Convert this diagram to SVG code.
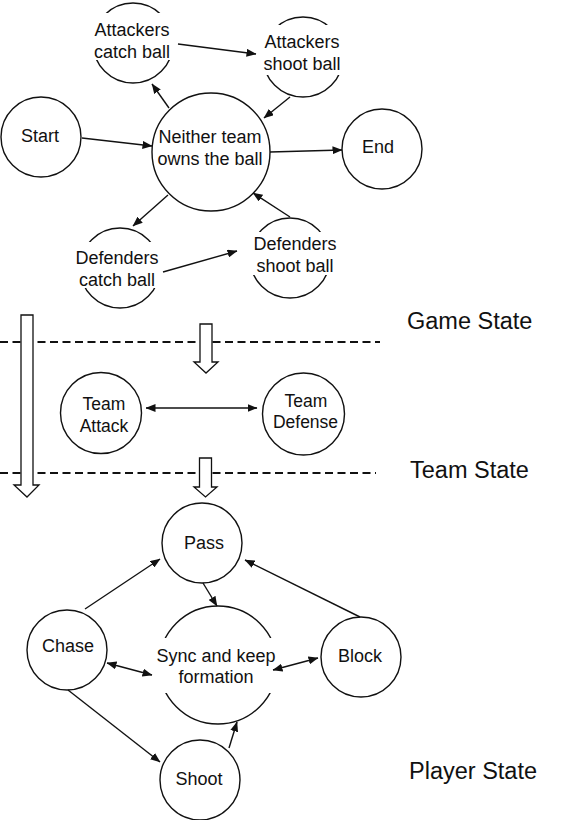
<svg xmlns="http://www.w3.org/2000/svg" width="562" height="820" viewBox="0 0 562 820">
<style>
.n{fill:#fff;stroke:#111;stroke-width:1.4}
.bg{fill:#fff;stroke:none}
.t{font-family:"Liberation Sans",Arial,sans-serif;font-size:18px;fill:#111;text-anchor:middle}
.tt{font-size:17.5px}
.lab{font-family:"Liberation Sans",Arial,sans-serif;font-size:23.5px;fill:#111}
.c{stroke:#111;stroke-width:1.4;fill:none;marker-end:url(#ah)}
.d{marker-start:url(#ah)}
.dash{stroke:#111;stroke-width:2;stroke-dasharray:8 4.5;fill:none}
.blk{fill:#fff;stroke:#111;stroke-width:1.3;stroke-linejoin:miter}
</style>
<defs>
<marker id="ah" markerUnits="userSpaceOnUse" markerWidth="10" markerHeight="8" refX="9.5" refY="4" orient="auto-start-reverse">
<path d="M0,0 L10,4 L0,8 z" fill="#111"/>
</marker>
</defs>
<rect width="562" height="820" fill="#fff"/>

<g id="layers">
<line class="dash" x1="0" y1="342" x2="380" y2="342"/>
<line class="dash" x1="0" y1="473" x2="376" y2="473"/>
<path class="blk" d="M21,315 H33 V485 H39 L27,497 L14,485 H21 Z"/>
<path class="blk" d="M200,324 H212 V362 H218 L206,373 L194,362 H200 Z"/>
<path class="blk" d="M199.5,458 H211.5 V487 H217 L205.5,497 L194,487 H199.5 Z"/>
<text class="lab" x="407" y="329">Game State</text>
<text class="lab" x="410" y="478">Team State</text>
<text class="lab" x="409" y="779">Player State</text>
</g>

<g id="start"><circle class="n" cx="41" cy="137" r="40"/><text class="t" x="40" y="142">Start</text></g>
<g id="neither"><circle class="n" cx="211" cy="152" r="59"/><text class="t" x="210" y="143">Neither team</text><text class="t" x="210" y="165">owns the ball</text></g>
<g id="end"><circle class="n" cx="382" cy="149" r="40"/><text class="t" x="378" y="153">End</text></g>
<g id="att-catch"><circle class="n" cx="133" cy="43" r="40"/><rect class="bg" x="88" y="13" width="90" height="47"/><text class="t" x="132" y="36">Attackers</text><text class="t" x="132" y="58">catch ball</text></g>
<g id="att-shoot"><circle class="n" cx="303" cy="57" r="40"/><rect class="bg" x="258" y="25" width="90" height="50"/><text class="t" x="302" y="48">Attackers</text><text class="t" x="302" y="70">shoot ball</text></g>
<g id="def-catch"><circle class="n" cx="120" cy="268" r="40"/><rect class="bg" x="72" y="242" width="96" height="46"/><text class="t" x="117" y="264">Defenders</text><text class="t" x="117" y="286">catch ball</text></g>
<g id="def-shoot"><circle class="n" cx="290" cy="258" r="40"/><rect class="bg" x="246" y="232" width="96" height="43"/><text class="t" x="295" y="250">Defenders</text><text class="t" x="295" y="272">shoot ball</text></g>

<g id="team-attack"><circle class="n" cx="101" cy="413" r="40.5"/><text class="t tt" x="104" y="410">Team</text><text class="t tt" x="104" y="432">Attack</text></g>
<g id="team-defense"><circle class="n" cx="303.5" cy="414" r="41"/><text class="t tt" x="306" y="407">Team</text><text class="t tt" x="305.5" y="428">Defense</text></g>

<g id="pass"><circle class="n" cx="202" cy="543" r="40"/><text class="t" x="204" y="549">Pass</text></g>
<g id="chase"><circle class="n" cx="67" cy="650" r="40"/><text class="t" x="68" y="652">Chase</text></g>
<g id="block"><circle class="n" cx="361" cy="657" r="40"/><text class="t" x="360" y="662">Block</text></g>
<g id="shoot"><circle class="n" cx="200" cy="780" r="40"/><text class="t" x="199" y="785">Shoot</text></g>
<g id="sync"><circle class="n" cx="218" cy="665" r="59"/><rect class="bg" x="150" y="638" width="136" height="55"/><text class="t" x="216" y="662">Sync and keep</text><text class="t" x="216" y="683">formation</text></g>

<g id="connectors">
<line class="c" x1="82" y1="138" x2="152" y2="146"/>
<line class="c" x1="270" y1="152" x2="342" y2="150"/>
<line class="c" x1="169" y1="108" x2="152" y2="84"/>
<line class="c" x1="178" y1="44" x2="256" y2="54"/>
<line class="c" x1="290" y1="97" x2="264" y2="118"/>
<line class="c" x1="168" y1="195" x2="133" y2="226"/>
<line class="c" x1="163" y1="272" x2="237" y2="251"/>
<line class="c" x1="290" y1="217" x2="253" y2="193"/>
<line class="c d" x1="146" y1="408" x2="257" y2="408"/>
<line class="c" x1="85" y1="609" x2="160" y2="559"/>
<line class="c" x1="360" y1="617" x2="245" y2="560"/>
<line class="c" x1="203" y1="583" x2="217" y2="606"/>
<line class="c d" x1="107" y1="663" x2="152" y2="675"/>
<line class="c d" x1="273" y1="670" x2="318" y2="658"/>
<line class="c" x1="68" y1="690" x2="160" y2="762"/>
<line class="c" x1="229" y1="748" x2="237" y2="722"/>
</g>
</svg>
